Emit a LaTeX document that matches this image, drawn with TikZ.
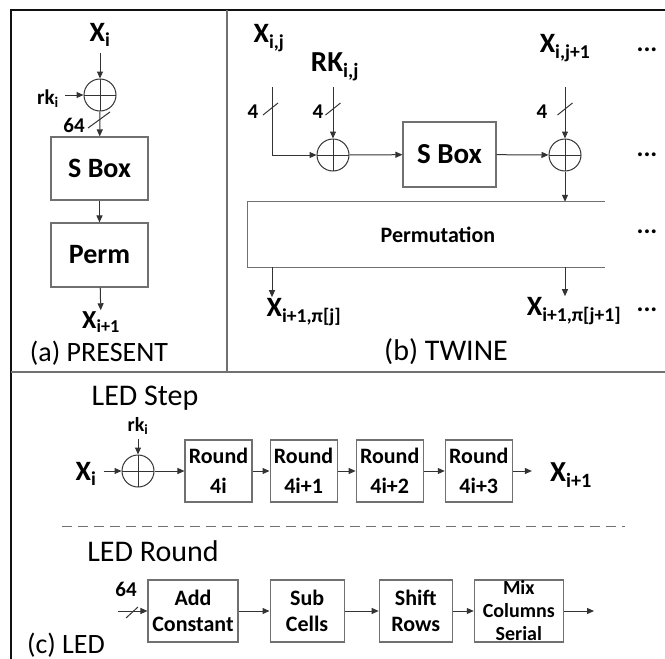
\documentclass[tikz,border=0pt]{standalone}
\usepackage{fontspec}
\setmainfont{Carlito}
\usepackage{xcolor}
\definecolor{lineGray}{HTML}{333333}
\definecolor{boxGray}{HTML}{707070}
\definecolor{frameBlack}{HTML}{111111}
\usepackage{tikz}
\usetikzlibrary{
    arrows.meta,
    positioning,
    calc
}
\newcommand{\sub}[1]{\textsubscript{#1}}
\tikzset{
    % Signal names - bold text, no border
    sig label/.style={
        font=\bfseries\fontsize{28}{30}\selectfont,
        inner sep=1pt,
    },
    % Small labels for bus widths and round keys
    small label/.style={
        font=\bfseries\fontsize{21}{23}\selectfont,
        inner sep=1pt,
    },
    % Sub-figure captions
    caption/.style={
        font=\fontsize{28}{30}\selectfont,
        inner sep=0pt,
    },
    % Function blocks - plain gray rectangle
    block/.style={
        rectangle,
        draw=boxGray,
        line width=1.1pt,
        align=center,
        inner sep=0pt,
        font=\bfseries\fontsize{22}{26}\selectfont,
    },
    % LED round blocks
    round box/.style={
        block,
        minimum width=67pt,
        minimum height=62pt,
        font=\bfseries\fontsize{22}{30}\selectfont,
    },
    % XOR operator - circle with a cross
    xor gate/.style={
        circle,
        draw=lineGray,
        line width=1pt,
        minimum size=32pt,
        inner sep=0pt,
        path picture={
            \draw[lineGray, line width=1pt]
                (path picture bounding box.north) -- (path picture bounding box.south)
                (path picture bounding box.west) -- (path picture bounding box.east);
        },
    },
    % Plain wire and arrow
    wire/.style={
        line width=1pt,
        draw=lineGray,
    },
    arrow/.style={
        wire,
        -{Triangle[length=7pt, width=6pt]},
    },
    % Frame and separators
    frame line/.style={line width=2pt, draw=frameBlack},
    divider/.style={line width=1.2pt, draw=boxGray},
    more dots/.style={font=\bfseries\fontsize{26}{28}\selectfont, inner sep=0pt},
}

\begin{document}
\begin{tikzpicture}[x=1pt, y=-1pt]
    \useasboundingbox (0,0) rectangle (665,659);
    \draw[frame line] (11,665) -- (11,10) -- (670,10);
    \draw[divider] (11,372) -- (670,372);
    \draw[divider] (227,10) -- (227,372);

    % (a) PRESENT
    \node (p_x) [sig label] at (100,35) {X\sub{i}};
    \node (p_xor) [xor gate] at (100,95) {};
    \node (p_rk) [small label] at (48,99) {rk\sub{i}};
    \node (p_width) [small label] at (74,125) {64};
    \node (p_sbox) [block, minimum width=97pt, minimum height=63pt, font=\bfseries\fontsize{28}{30}\selectfont] at (99.5,168.5) {S Box};
    \node (p_perm) [block, minimum width=97pt, minimum height=64pt, font=\bfseries\fontsize{28}{30}\selectfont] at (99.5,255) {Perm};
    \node (p_out) [sig label, font=\bfseries\fontsize{26}{28}\selectfont] at (101,322) {X\sub{i+1}};
    \node (p_cap) [caption] at (99,353) {(a) PRESENT};

    \draw [arrow, shorten <=5pt] (p_x) -- (p_xor);
    \draw [arrow, shorten <=5pt] (p_rk.east |- p_xor) -- (p_xor);
    \draw [arrow] (p_xor) -- (p_sbox);
    \draw [wire] (99,120) ++(-11,8) -- ++(22,-16);
    \draw [arrow] (p_sbox) -- (p_perm);
    \draw [arrow] (p_perm) -- (p_out);

    % (b) TWINE
    \node (t_x) [sig label] at (269,38) {X\sub{i,j}};
    \node (t_rk) [sig label, font=\bfseries\fontsize{29}{31}\selectfont] at (335,67) {RK\sub{i,j}};
    \node (t_x1) [sig label] at (565,48) {X\sub{i,j+1}};
    \coordinate (t_in0) at (272,87);
    \coordinate (t_in1) at (333,87);
    \coordinate (t_in2) at (565,87);
    \node (t_w0) [small label] at (253,112) {4};
    \node (t_w1) [small label] at (318,112) {4};
    \node (t_w2) [small label] at (542,112) {4};
    \node (t_xor0) [xor gate] at (333,155) {};
    \node (t_sbox) [block, minimum width=93pt, minimum height=65pt, font=\bfseries\fontsize{29}{31}\selectfont] at (449.5,154.5) {S Box};
    \node (t_xor1) [xor gate] at (565,155) {};
    \node (t_perm) [minimum width=357pt, minimum height=65pt, inner sep=0pt] at (426.5,234.5) {};
    \node (t_perm_txt) [font=\bfseries\fontsize{22}{24}\selectfont] at (438,235) {Permutation};
    \node (t_out0) [sig label] at (304,312) {X\sub{i+1,π[j]}};
    \node (t_out1) [sig label] at (574,311) {X\sub{i+1,π[j+1]}};
    \node (t_cap) [caption, font=\fontsize{30}{32}\selectfont] at (446,352) {(b) TWINE};
    \foreach \yy [count=\k] in {50,155,232,310}
        \node (t_dots\k) [more dots] at (647,\yy) {...};

    \draw [arrow] (t_in0) |- (t_xor0);
    \draw [arrow] (t_in1) -- (t_xor0);
    \draw [arrow] (t_in2) -- (t_xor1);
    \foreach \xx in {270.5,333,565}
        \draw [wire] (\xx,109) ++(-7.5,6) -- ++(15,-12);
    \draw [arrow] (t_xor0) -- (t_sbox);
    \draw [arrow] (t_sbox) -- (t_xor1);
    \draw [arrow] (t_xor1) -- (t_xor1 |- t_perm.north);
    \draw [wire, draw=boxGray, line width=1.1pt] (t_perm.north east) -- (t_perm.north west) -- (t_perm.south west) -- (t_perm.south east);
    \draw [arrow] (t_perm.south -| t_in0) -- (t_in0 |- t_out0.north);
    \draw [arrow] (t_perm.south -| t_xor1) -- (t_xor1 |- t_out1.north);

    % (c) LED step
    \node (l_step) [caption, font=\fontsize{30}{32}\selectfont] at (145,398) {LED Step};
    \node (l_x) [sig label] at (86,474) {X\sub{i}};
    \node (l_rk) [small label, font=\bfseries\fontsize{20}{22}\selectfont] at (138,426) {rk\sub{i}};
    \node (l_xor) [xor gate] at (138,471) {};
    \node (l_r0) [round box] at (218.5,471) {Round\\4i};
    \node (l_r1) [round box, right=17pt of l_r0] {Round\\4i+1};
    \node (l_r2) [round box, right=18pt of l_r1] {Round\\4i+2};
    \node (l_r3) [round box, right=21pt of l_r2] {Round\\4i+3};
    \node (l_out) [sig label, font=\bfseries\fontsize{29}{31}\selectfont] at (571,475) {X\sub{i+1}};

    \draw [arrow, shorten <=6pt] (l_x.east |- l_xor) -- (l_xor);
    \draw [arrow, shorten <=3pt] (l_rk) -- (l_xor);
    \draw [arrow] (l_xor) -- (l_r0);
    \draw [arrow] (l_r0) -- (l_r1);
    \draw [arrow] (l_r1) -- (l_r2);
    \draw [arrow] (l_r2) -- (l_r3);
    \draw [arrow, shorten >=17pt] (l_r3) -- (l_r3 -| l_out.west);

    \draw [wire, draw=boxGray, dash pattern=on 10pt off 6pt] (62,526) -- (625,526);

    % (c) LED round
    \node (l_round) [caption, font=\fontsize{30}{32}\selectfont] at (153,551) {LED Round};
    \coordinate (l_in) at (118,611);
    \node (l_width) [small label] at (126,589) {64};
    \node (l_ac) [block, minimum width=90pt, minimum height=62pt] at (193,611) {Add\\Constant};
    \node (l_sc) [block, minimum width=74pt, minimum height=62pt, right=31pt of l_ac] {Sub\\Cells};
    \node (l_sr) [block, minimum width=73pt, minimum height=62pt, right=34pt of l_sc] {Shift\\Rows};
    \node (l_mc) [block, minimum width=89pt, minimum height=62pt, right=21pt of l_sr, font=\bfseries\fontsize{20}{23}\selectfont] {Mix\\Columns\\Serial};
    \coordinate (l_end) at (594,611);
    \node (l_cap) [caption] at (66,645) {(c) LED};

    \draw [arrow] (l_in) -- (l_ac);
    \draw [wire] (132,612) ++(-6,6) -- ++(12,-11);
    \draw [arrow] (l_ac) -- (l_sc);
    \draw [arrow] (l_sc) -- (l_sr);
    \draw [arrow] (l_sr) -- (l_mc);
    \draw [arrow] (l_mc) -- (l_end);
\end{tikzpicture}
\end{document}
